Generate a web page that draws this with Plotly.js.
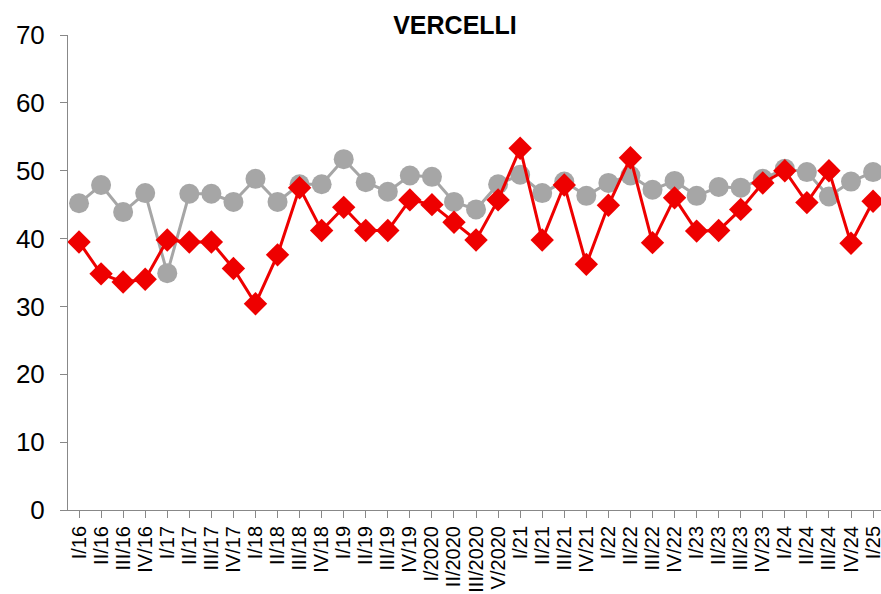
<!DOCTYPE html>
<html><head><meta charset="utf-8">
<script src="https://cdn.plot.ly/plotly-3.0.1.min.js"></script>
<style>html,body{margin:0;padding:0;background:#fff}</style>
</head><body><div id="chart" style="width:881px;height:594px"></div>
<script>
const categories = ["I/16","II/16","III/16","IV/16","I/17","II/17","III/17","IV/17","I/18","II/18","III/18","IV/18","I/19","II/19","III/19","IV/19","I/2020","II/2020","III/2020","V/2020","I/21","II/21","III/21","IV/21","I/22","II/22","III/22","IV/22","I/23","II/23","III/23","IV/23","I/24","II/24","III/24","IV/24","I/25"];
const redSeries = [39.5,34.8,33.6,34.0,39.8,39.5,39.5,35.6,30.4,37.6,47.5,41.2,44.6,41.2,41.2,45.7,45.0,42.4,39.8,45.7,53.3,39.8,47.9,36.2,44.9,51.9,39.4,46.0,41.1,41.2,44.3,48.2,50.0,45.3,50.0,39.3,45.5];
const graySeries = [45.2,47.9,43.9,46.7,34.9,46.6,46.6,45.4,48.8,45.4,48.0,48.0,51.7,48.3,46.9,49.3,49.1,45.4,44.3,48.0,49.4,46.7,48.4,46.3,48.2,49.3,47.2,48.5,46.3,47.6,47.5,48.8,50.3,49.8,46.2,48.4,49.8];
const yTicks = [0,10,20,30,40,50,60,70];

const idx = categories.map((c,i)=>i);
const traces = [
  {x: idx, y: graySeries, type:'scatter', mode:'lines+markers',
   line:{color:'#a6a6a6', width:3}, marker:{symbol:'circle', size:20, color:'#a6a6a6'}, cliponaxis:false},
  {x: idx, y: redSeries, type:'scatter', mode:'lines+markers',
   line:{color:'#ee0000', width:3}, marker:{symbol:'diamond', size:18, color:'#ee0000'}, cliponaxis:false}
];
const layout = {
  width:881, height:594,
  margin:{l:68, r:0, t:35, b:84},
  paper_bgcolor:'#fff', plot_bgcolor:'#fff',
  showlegend:false,
  font:{family:'Liberation Sans, Arial, sans-serif', color:'#000'},
  title:{text:'<b>VERCELLI</b>', font:{size:25, family:'Liberation Sans, Arial, sans-serif', color:'#000'},
         x:455/881, xref:'container', xanchor:'center', y:1-25/594, yref:'container', yanchor:'middle'},
  xaxis:{
    range:[-0.5, 36.36], tickmode:'array', tickvals:idx, ticktext:categories,
    tickangle:-90, tickfont:{size:20}, showgrid:false, zeroline:false,
    showline:true, linecolor:'#888', linewidth:1, ticks:'outside', ticklen:7, tickcolor:'#888',
    tickson:'boundaries', ticklabeloverflow:'allow', fixedrange:true
  },
  yaxis:{
    range:[0,70], tickvals:yTicks, tickfont:{size:26}, showgrid:false, zeroline:false,
    showline:true, linecolor:'#888', linewidth:1, ticks:'outside', ticklen:7, tickcolor:'#888',
    ticklabelstandoff:10, fixedrange:true
  }
};
Plotly.newPlot('chart', traces, layout, {displayModeBar:false, staticPlot:true});
</script></body></html>
